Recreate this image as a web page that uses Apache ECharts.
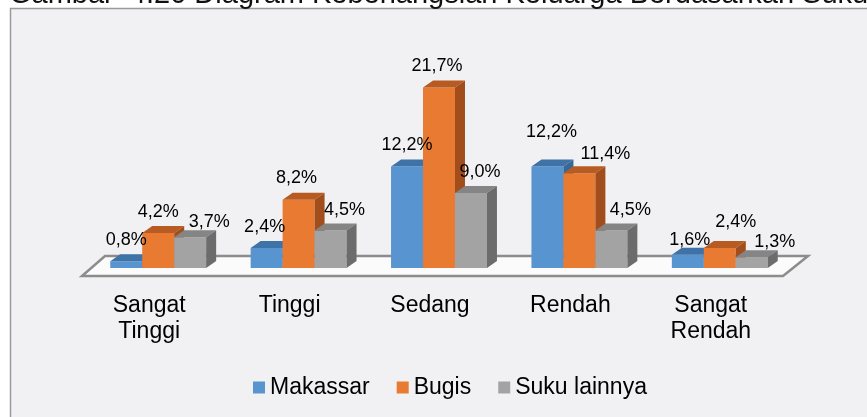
<!DOCTYPE html>
<html>
<head>
<meta charset="utf-8">
<script src="https://cdn.jsdelivr.net/npm/echarts@6/dist/echarts.min.js"></script>
<style>
  html, body { margin: 0; padding: 0; background: #fff; }
  #main { width: 867px; height: 417px; }
</style>
</head>
<body>
<div id="main"></div>
<script>
var categories = ['Sangat\nTinggi', 'Tinggi', 'Sedang', 'Rendah', 'Sangat\nRendah'];
var makassar = [0.8, 2.4, 12.2, 12.2, 1.6];
var bugis = [4.2, 8.2, 21.7, 11.4, 2.4];
var sukuLainnya = [3.7, 4.5, 9.0, 4.5, 1.3];
var seriesNames = ['Makassar', 'Bugis', 'Suku lainnya'];

// geseran label (px) seperti di gambar asli: [dx, jarak di atas batang]
var labelNudge = [
    [[0, 16], [-2, 16], [0, 16], [4, 29], [2, 10]],
    [[0, 16], [-2, 17], [-2, 16], [26, 14], [16, 21]],
    [[19, 10], [14, 16], [9, 16], [19, 16], [23, 10]]
];

// warna muka depan, atas, samping
var faces = [
    { front: '#5894cf', top: '#3f73a8', side: '#38679a' },
    { front: '#e87a32', top: '#b85b22', side: '#a24e1c' },
    { front: '#a3a3a3', top: '#858585', side: '#6c6c6c' }
];

var DX = 10, DY = 7;
var font = "'Liberation Sans', Arial, sans-serif";

function fmt(v) {
    return v.toFixed(1).replace('.', ',') + '%';
}

function barBox(si, api) {
    var ci = api.value(0), v = api.value(1);
    var base = api.coord([ci, 0]);
    var top = api.coord([ci, v]);
    var band = api.size([1, 0])[0];
    var bw = band * 0.2277;
    var x0 = base[0] + (si - 1) * bw - bw / 2;
    return { ci: ci, v: v, x0: x0, x1: x0 + bw, yb: base[1], yt: top[1] };
}

function barRenderer(si) {
    return function (params, api) {
        var b = barBox(si, api);
        var c = faces[si];
        var x0 = b.x0, x1 = b.x1, yt = b.yt, yb = b.yb;
        return {
            type: 'group',
            children: [
                { type: 'rect', shape: { x: x0, y: yt, width: x1 - x0, height: yb - yt }, style: { fill: c.front } },
                { type: 'polygon', shape: { points: [[x0, yt], [x1, yt], [x1 + DX, yt - DY], [x0 + DX, yt - DY]] }, style: { fill: c.top } },
                { type: 'polygon', shape: { points: [[x1, yt], [x1 + DX, yt - DY], [x1 + DX, yb - DY], [x1, yb]] }, style: { fill: c.side } }
            ]
        };
    };
}

function labelRenderer(si) {
    return function (params, api) {
        var b = barBox(si, api);
        var n = labelNudge[si][b.ci];
        return {
            type: 'text',
            style: {
                text: fmt(b.v),
                x: (b.x0 + b.x1) / 2 + n[0],
                y: b.yt - n[1] + 4,
                align: 'center',
                verticalAlign: 'bottom',
                fontSize: 18,
                fontFamily: font,
                fill: '#000'
            }
        };
    };
}

function floorRenderer(params, api) {
    var band = api.size([1, 0])[0];
    var a = api.coord([0, 0]);
    var b = api.coord([categories.length - 1, 0]);
    var left = a[0] - band / 2, right = b[0] + band / 2, yb = a[1];
    return {
        type: 'polygon',
        shape: { points: [[left - 6, yb + 8], [right - 7, yb + 8], [right + 18, yb - 12], [left + 17, yb - 12]] },
        style: { fill: '#fbfbfb', stroke: '#8c8c8c', lineWidth: 2.5 }
    };
}

var allData = [makassar, bugis, sukuLainnya];
var series = [{
    type: 'custom',
    name: 'floor',
    renderItem: floorRenderer,
    data: [[0, 0]],
    silent: true,
    z: 1
}];
allData.forEach(function (vals, si) {
    var pts = vals.map(function (v, i) { return [i, v]; });
    series.push({
        type: 'custom',
        name: seriesNames[si],
        renderItem: barRenderer(si),
        itemStyle: { color: faces[si].front },
        data: pts,
        z: 2 + si
    });
    series.push({
        type: 'custom',
        name: seriesNames[si] + ' label',
        renderItem: labelRenderer(si),
        data: pts,
        silent: true,
        z: 10
    });
});

var myChart = echarts.init(document.getElementById('main'));
var option = {
    backgroundColor: '#ffffff',
    animation: false,
    graphic: [
        { type: 'rect', z: -10, shape: { x: 10.5, y: 8.5, width: 900, height: 500 }, style: { fill: '#f1f1f3', stroke: '#9a9a9a', lineWidth: 1.5 } },
        { type: 'text', z: 10, style: { text: 'Gambar  4.20 Diagram Keberlangsian Keluarga Berdasarkan Suku', x: 9, y: 9, verticalAlign: 'bottom', fontSize: 29, fontFamily: font, fill: '#111' } }
    ],
    grid: { left: 88, right: 77, top: 60, bottom: 149 },
    legend: {
        data: seriesNames,
        left: 248,
        top: 371,
        icon: 'rect',
        itemWidth: 12,
        itemHeight: 12,
        itemGap: 27,
        textStyle: { fontSize: 23, fontFamily: font, color: '#000' }
    },
    xAxis: {
        type: 'category',
        data: categories,
        axisLine: { show: false },
        axisTick: { show: false },
        axisLabel: { fontSize: 23, lineHeight: 26, fontFamily: font, color: '#000', margin: 25, padding: [0, 18, 0, 0] }
    },
    yAxis: {
        type: 'value',
        min: 0,
        max: 25,
        show: false
    },
    series: series
};
myChart.setOption(option);
</script>
</body>
</html>
